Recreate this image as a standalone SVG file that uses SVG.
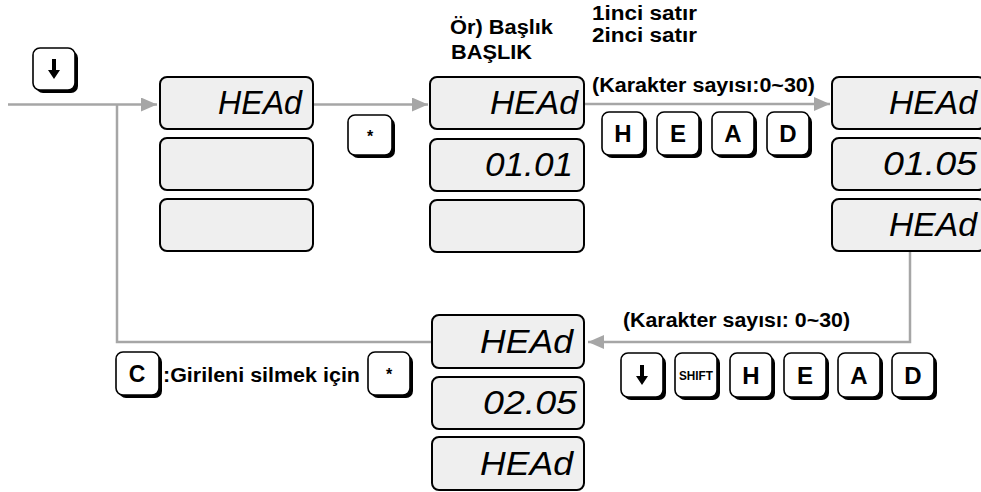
<svg xmlns="http://www.w3.org/2000/svg" width="981" height="492" viewBox="0 0 981 492">
<defs>
<style>
.bg{fill:#ffffff}
.disp{fill:#efefef;stroke:#000;stroke-width:2}
.seg{font-family:"Liberation Sans",Arial,sans-serif;font-style:italic;font-size:34px;fill:#000}
.ksh{fill:#000}
.kb{fill:#fff;stroke:#000;stroke-width:1.6}
.kt{font-family:"Liberation Sans",Arial,sans-serif;font-weight:bold;font-size:24px;text-anchor:middle;fill:#000}
.lbl{font-family:"Liberation Sans",Arial,sans-serif;font-weight:bold;font-size:20px;fill:#000}
.conn{fill:none;stroke:#a6a6a6;stroke-width:2.5}
.ah{fill:#a6a6a6}
</style>
<marker id="arr" viewBox="0 0 16 14" refX="16" refY="7" markerWidth="16" markerHeight="14" markerUnits="userSpaceOnUse" orient="auto">
<path d="M0,0 L16,7 L0,14 Z" class="ah"/>
</marker>
<g id="dnicon"><path d="M-2,-10 H2 V1 H6 L0,10 L-6,1 H-2 Z" fill="#000"/></g>
</defs>
<rect class="bg" x="0" y="0" width="981" height="492"/>

<g id="connectors">
<path class="conn" d="M8,104.5 H157" marker-end="url(#arr)"/>
<path class="conn" d="M117,104.5 V342 H432"/>
<path class="conn" d="M313,104.5 H428" marker-end="url(#arr)"/>
<path class="conn" d="M584,104 H830" marker-end="url(#arr)"/>
<path class="conn" d="M910,252 V342 H588" marker-end="url(#arr)"/>
</g>

<g id="key-down-start">
<rect class="ksh" x="36" y="51" width="42" height="42" rx="7"/>
<rect class="kb" x="33" y="48" width="42" height="42" rx="7"/>
<use href="#dnicon" x="54" y="69"/>
</g>

<g id="display-1">
<rect class="disp" x="160" y="77" width="153" height="52" rx="7"/>
<rect class="disp" x="160" y="138" width="153" height="52" rx="7"/>
<rect class="disp" x="160" y="199" width="153" height="52" rx="7"/>
<text class="seg" x="218" y="114" textLength="84" lengthAdjust="spacingAndGlyphs">HEAd</text>
</g>

<g id="key-star-1">
<rect class="ksh" x="351" y="118" width="44" height="40" rx="7"/>
<rect class="kb" x="348" y="115" width="44" height="40" rx="7"/>
<text class="kt" x="370" y="142" style="font-size:16px">*</text>
</g>

<g id="example-label">
<text class="lbl" x="450" y="34" textLength="103" lengthAdjust="spacingAndGlyphs">Ör) Başlık</text>
<text class="lbl" x="451" y="59" textLength="81" lengthAdjust="spacingAndGlyphs">BAŞLIK</text>
</g>

<g id="line-labels">
<text class="lbl" x="592" y="20" textLength="105" lengthAdjust="spacingAndGlyphs">1inci satır</text>
<text class="lbl" x="592" y="42" textLength="105" lengthAdjust="spacingAndGlyphs">2inci satır</text>
</g>

<g id="display-2">
<rect class="disp" x="430" y="77" width="154" height="52" rx="7"/>
<rect class="disp" x="430" y="139" width="154" height="52" rx="7"/>
<rect class="disp" x="430" y="200" width="154" height="52" rx="7"/>
<text class="seg" x="490" y="114" textLength="88" lengthAdjust="spacingAndGlyphs">HEAd</text>
<text class="seg" x="485" y="176" textLength="88" lengthAdjust="spacingAndGlyphs">01.01</text>
</g>

<g id="count-label-top">
<text class="lbl" x="592" y="92" textLength="223" lengthAdjust="spacingAndGlyphs">(Karakter sayısı:0~30)</text>
</g>

<g id="keys-head-top">
<rect class="ksh" x="605" y="115" width="42" height="43" rx="7"/>
<rect class="kb" x="602" y="112" width="42" height="43" rx="7"/>
<text class="kt" x="623" y="142">H</text>
<rect class="ksh" x="660" y="115" width="42" height="43" rx="7"/>
<rect class="kb" x="657" y="112" width="42" height="43" rx="7"/>
<text class="kt" x="678" y="142">E</text>
<rect class="ksh" x="715" y="115" width="42" height="43" rx="7"/>
<rect class="kb" x="712" y="112" width="42" height="43" rx="7"/>
<text class="kt" x="733" y="142">A</text>
<rect class="ksh" x="770" y="115" width="42" height="43" rx="7"/>
<rect class="kb" x="767" y="112" width="42" height="43" rx="7"/>
<text class="kt" x="788" y="142">D</text>
</g>

<g id="display-3">
<rect class="disp" x="832" y="77" width="153" height="52" rx="7"/>
<rect class="disp" x="832" y="138" width="153" height="52" rx="7"/>
<rect class="disp" x="832" y="199" width="153" height="52" rx="7"/>
<text class="seg" x="889" y="114" textLength="88" lengthAdjust="spacingAndGlyphs">HEAd</text>
<text class="seg" x="883" y="175" textLength="94" lengthAdjust="spacingAndGlyphs">01.05</text>
<text class="seg" x="889" y="236" textLength="88" lengthAdjust="spacingAndGlyphs">HEAd</text>
</g>

<g id="count-label-bottom">
<text class="lbl" x="623" y="327" textLength="227" lengthAdjust="spacingAndGlyphs">(Karakter sayısı: 0~30)</text>
</g>

<g id="keys-bottom">
<rect class="ksh" x="624" y="356" width="42" height="44" rx="7"/>
<rect class="kb" x="621" y="353" width="42" height="44" rx="7"/>
<use href="#dnicon" x="642" y="375"/>
<rect class="ksh" x="678" y="356" width="42" height="44" rx="7"/>
<rect class="kb" x="675" y="353" width="42" height="44" rx="7"/>
<text class="kt" x="696" y="380" style="font-size:12px" textLength="34" lengthAdjust="spacingAndGlyphs">SHIFT</text>
<rect class="ksh" x="733" y="356" width="42" height="44" rx="7"/>
<rect class="kb" x="730" y="353" width="42" height="44" rx="7"/>
<text class="kt" x="751" y="384">H</text>
<rect class="ksh" x="787" y="356" width="42" height="44" rx="7"/>
<rect class="kb" x="784" y="353" width="42" height="44" rx="7"/>
<text class="kt" x="805" y="384">E</text>
<rect class="ksh" x="841" y="356" width="42" height="44" rx="7"/>
<rect class="kb" x="838" y="353" width="42" height="44" rx="7"/>
<text class="kt" x="859" y="384">A</text>
<rect class="ksh" x="895" y="356" width="42" height="44" rx="7"/>
<rect class="kb" x="892" y="353" width="42" height="44" rx="7"/>
<text class="kt" x="913" y="384">D</text>
</g>

<g id="display-4">
<rect class="disp" x="432" y="315" width="152" height="53" rx="7"/>
<rect class="disp" x="432" y="377" width="152" height="52" rx="7"/>
<rect class="disp" x="432" y="437" width="152" height="53" rx="7"/>
<text class="seg" x="480" y="353" textLength="93" lengthAdjust="spacingAndGlyphs">HEAd</text>
<text class="seg" x="483" y="414" textLength="94" lengthAdjust="spacingAndGlyphs">02.05</text>
<text class="seg" x="480" y="475" textLength="93" lengthAdjust="spacingAndGlyphs">HEAd</text>
</g>

<g id="clear-note">
<rect class="ksh" x="119" y="355" width="43" height="43" rx="7"/>
<rect class="kb" x="116" y="352" width="43" height="43" rx="7"/>
<text class="kt" x="137" y="382" style="font-size:23px">C</text>
<text class="lbl" x="163" y="382" textLength="197" lengthAdjust="spacingAndGlyphs">:Girileni silmek için</text>
<rect class="ksh" x="371" y="355" width="42" height="43" rx="7"/>
<rect class="kb" x="368" y="352" width="42" height="43" rx="7"/>
<text class="kt" x="389" y="380" style="font-size:16px">*</text>
</g>
</svg>
